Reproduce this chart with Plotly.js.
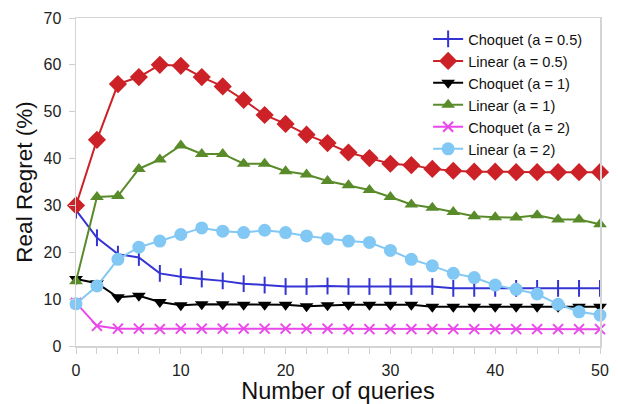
<!DOCTYPE html>
<html>
<head>
<meta charset="utf-8">
<script src="https://cdn.plot.ly/plotly-3.0.1.min.js"></script>
<style>html,body{margin:0;padding:0;background:#fff;}#chart{width:618px;height:404px;}</style>
</head>
<body>
<div id="chart"></div>
<script>
const queries = [0,2,4,6,8,10,12,14,16,18,20,22,24,26,28,30,32,34,36,38,40,42,44,46,48,50];
const choquet05 = [29,23.1,19.6,18.9,15.5,14.8,14.3,13.9,13.3,13.0,12.7,12.7,12.8,12.7,12.7,12.7,12.7,12.7,12.3,12.3,12.3,12.3,12.3,12.3,12.3,12.3];
const linear05 = [30,44.0,55.9,57.4,60.0,59.8,57.4,55.4,52.5,49.3,47.4,45.1,43.3,41.3,40.1,38.9,38.6,37.8,37.4,37.2,37.2,37.1,37.1,37.1,37.1,37.1];
const choquet1 = [14.3,13.4,10.4,10.7,9.4,8.7,8.9,8.9,8.8,8.8,8.8,8.5,8.7,8.8,8.8,8.8,8.8,8.4,8.4,8.4,8.4,8.4,8.4,8.4,8.4,8.4];
const linear1 = [13.8,31.8,32.0,37.8,39.8,42.8,41.0,41.0,38.9,38.9,37.3,36.6,35.2,34.3,33.3,31.8,30.2,29.5,28.6,27.7,27.5,27.4,27.9,27.0,27.0,26.0];
const choquet2 = [9.2,4.3,3.7,3.7,3.6,3.7,3.7,3.7,3.7,3.7,3.7,3.7,3.7,3.6,3.6,3.6,3.6,3.6,3.6,3.6,3.6,3.6,3.6,3.6,3.6,3.6];
const linear2 = [9.0,12.8,18.5,21.1,22.4,23.8,25.2,24.5,24.2,24.7,24.2,23.5,22.9,22.4,22.1,20.4,18.5,17.1,15.5,14.6,13.0,12.1,11.1,8.9,7.3,6.6];

const seriesNames = ['Choquet (a = 0.5)','Linear (a = 0.5)','Choquet (a = 1)','Linear (a = 1)','Choquet (a = 2)','Linear (a = 2)'];
const seriesData = [choquet05, linear05, choquet1, linear1, choquet2, linear2];
const styles = [
  {color:'#3434d4', symbol:'line-ns-open', size:12, mw:2},
  {color:'#cc2127', symbol:'diamond', size:14, mw:0},
  {color:'#000000', symbol:'triangle-down', size:12, mw:0},
  {color:'#5a8b2a', symbol:'triangle-up', size:12, mw:0},
  {color:'#ea48ea', symbol:'x-thin-open', size:10, mw:2},
  {color:'#82c8f4', symbol:'circle', size:13, mw:0}
];
const traces = seriesData.map((ys,i)=>({
  x: queries, y: ys, name: seriesNames[i], type:'scatter', mode:'lines+markers',
  cliponaxis:false,
  line:{color:styles[i].color, width:2},
  marker:{symbol:styles[i].symbol, size:styles[i].size, color:styles[i].color,
          line:{color:styles[i].color, width:styles[i].mw}}
}));
const layout = {
  width:618, height:404,
  margin:{l:76, r:18, t:18, b:58},
  paper_bgcolor:'#fff', plot_bgcolor:'#fff',
  font:{family:'Liberation Sans, Arial, sans-serif', color:'#222'},
  showlegend:true,
  legend:{x:0.672, y:0.985, xanchor:'left', yanchor:'top', bgcolor:'rgba(0,0,0,0)',
          font:{size:14.6, color:'#111'}, tracegroupgap:0, itemwidth:30},
  xaxis:{range:[0,50], dtick:10, tick0:0, showgrid:false, zeroline:false,
         showline:true, linecolor:'#d4d4d4', linewidth:1.5, mirror:true,
         ticks:'outside', ticklen:6, tickcolor:'#cfcfcf', tickfont:{size:16, color:'#222'},
         ticklabelstandoff:3,
         minor:{dtick:2, ticks:'outside', ticklen:6, tickcolor:'#cfcfcf', showgrid:false},
         title:{text:'Number of queries', font:{size:23.5, color:'#111'}, standoff:6}},
  yaxis:{range:[0,70], dtick:10, showgrid:false, zeroline:false,
         showline:true, linecolor:'#d4d4d4', linewidth:1.5, mirror:true,
         ticks:'outside', ticklen:6, tickcolor:'#cfcfcf', tickfont:{size:16, color:'#222'},
         ticklabelstandoff:4,
         title:{text:'Real Regret (%)', font:{size:22.5, color:'#111'}, standoff:4}}
};
Plotly.newPlot('chart', traces, layout, {displayModeBar:false, staticPlot:true});
</script>
</body>
</html>
